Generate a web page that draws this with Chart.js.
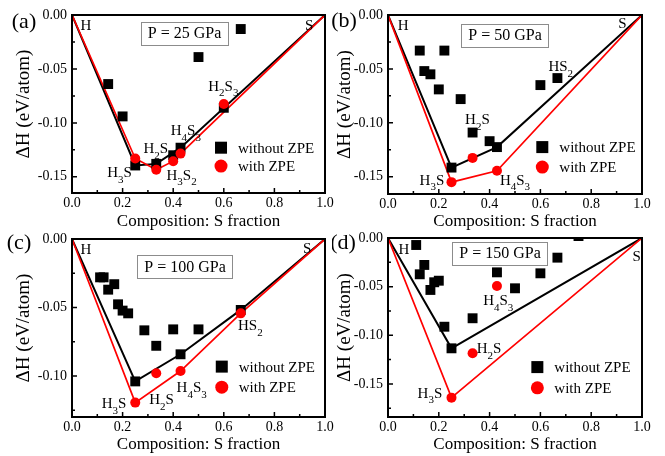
<!DOCTYPE html>
<html>
<head>
<meta charset="utf-8">
<script src="https://cdn.jsdelivr.net/npm/chart.js@4"></script>
<style>
  body { margin: 0; background: #fff; width: 665px; height: 456px; position: relative; overflow: hidden; }
  canvas { position: absolute; }
</style>
</head>
<body>
<canvas id="pa" width="340" height="232" style="left:0;top:0"></canvas>
<canvas id="pb" width="333" height="232" style="left:332px;top:0"></canvas>
<canvas id="pc" width="340" height="228" style="left:0;top:228px"></canvas>
<canvas id="pd" width="333" height="228" style="left:332px;top:228px"></canvas>
<script>
// composition axis ticks (shared)
const xTicks = [0, 0.2, 0.4, 0.6, 0.8, 1.0];

// (a) P = 25 GPa
const aTicksY = [0, -0.05, -0.10, -0.15];
const aBareX = [0.143, 0.2, 0.25, 0.333, 0.4, 0.429, 0.5, 0.6, 0.667];
const aBareY = [-0.064, -0.094, -0.1395, -0.138, -0.130, -0.123, -0.039, -0.086, -0.013];
const aZpeX = [0.25, 0.333, 0.4, 0.429, 0.6];
const aZpeY = [-0.133, -0.1435, -0.1355, -0.1285, -0.0825];
const aHullX = [0, 0.25, 0.333, 0.429, 1];
const aHullY = [0, -0.1395, -0.138, -0.123, 0];
const aHullZpeX = [0, 0.25, 0.333, 0.4, 0.429, 1];
const aHullZpeY = [0, -0.133, -0.1435, -0.1355, -0.1285, 0];

// (b) P = 50 GPa
const bTicksY = [0, -0.05, -0.10, -0.15];
const bBareX = [0.125, 0.143, 0.167, 0.2, 0.222, 0.25, 0.286, 0.333, 0.4, 0.429, 0.6, 0.667];
const bBareY = [-0.033, -0.052, -0.055, -0.069, -0.033, -0.1415, -0.078, -0.109, -0.117, -0.1225, -0.065, -0.0585];
const bZpeX = [0.25, 0.333, 0.429];
const bZpeY = [-0.155, -0.1325, -0.1445];
const bHullX = [0, 0.25, 0.429, 1];
const bHullY = [0, -0.1415, -0.1225, 0];
const bHullZpeX = [0, 0.25, 0.429, 1];
const bHullZpeY = [0, -0.155, -0.1445, 0];

// (c) P = 100 GPa
const cTicksY = [0, -0.05, -0.10];
const cBareX = [0.111, 0.125, 0.143, 0.167, 0.182, 0.2, 0.222, 0.25, 0.286, 0.333, 0.4, 0.429, 0.5, 0.667];
const cBareY = [-0.028, -0.028, -0.037, -0.033, -0.0477, -0.0523, -0.0543, -0.104, -0.0667, -0.078, -0.066, -0.0842, -0.066, -0.0518];
const cZpeX = [0.25, 0.333, 0.429, 0.667];
const cZpeY = [-0.1195, -0.098, -0.0964, -0.0543];
const cHullX = [0, 0.25, 0.429, 0.667, 1];
const cHullY = [0, -0.104, -0.0842, -0.0518, 0];
const cHullZpeX = [0, 0.25, 0.429, 0.667, 1];
const cHullZpeY = [0, -0.1195, -0.0964, -0.0543, 0];

// (d) P = 150 GPa
const dTicksY = [0, -0.05, -0.10, -0.15];
const dBareX = [0.111, 0.125, 0.143, 0.167, 0.182, 0.2, 0.222, 0.25, 0.333, 0.429, 0.5, 0.6, 0.667, 0.75];
const dBareY = [-0.0072, -0.0373, -0.0277, -0.0534, -0.0455, -0.0439, -0.0912, -0.1134, -0.0825, -0.0353, -0.0517, -0.0363, -0.0202, 0.002];
const dZpeX = [0.25, 0.333, 0.429];
const dZpeY = [-0.1641, -0.1185, -0.0493];
const dHullX = [0, 0.25, 1];
const dHullY = [0, -0.1134, 0];
const dHullZpeX = [0, 0.25, 1];
const dHullZpeY = [0, -0.1641, 0];

const serif = '"Liberation Serif", "DejaVu Serif", serif';

function pts(xs, ys) {
  return xs.map((x, i) => ({ x: x, y: ys[i] }));
}

// draws formulas like H3S2 with digits as subscripts, centred on (x, y)
function formula(ctx, str, x, y, size) {
  const parts = [...str].map(ch => ({ ch: ch, sub: /[0-9]/.test(ch) }));
  const fMain = size + 'px ' + serif;
  const fSub = Math.round(size * 0.75) + 'px ' + serif;
  let w = 0;
  parts.forEach(p => {
    ctx.font = p.sub ? fSub : fMain;
    p.w = ctx.measureText(p.ch).width;
    w += p.w;
  });
  let cx = x - w / 2;
  const base = y + size * 0.33;
  ctx.textAlign = 'left';
  ctx.textBaseline = 'alphabetic';
  parts.forEach(p => {
    ctx.font = p.sub ? fSub : fMain;
    ctx.fillText(p.ch, cx, p.sub ? base + size * 0.38 : base);
    cx += p.w;
  });
}

const decor = {
  id: 'decor',
  afterDatasetsDraw(chart, args, o) {
    const { ctx, chartArea: a, scales: { x, y } } = chart;
    ctx.save();
    ctx.strokeStyle = '#000';
    ctx.fillStyle = '#000';

    // inward ticks on bottom and left
    ctx.lineWidth = 1.5;
    ctx.beginPath();
    for (let i = 0; i <= 10; i++) {
      const px = x.getPixelForValue(i / 10);
      ctx.moveTo(px, a.bottom);
      ctx.lineTo(px, a.bottom - (i % 2 ? 3 : 5));
    }
    for (let i = 0; -i * 0.025 >= y.min - 1e-9; i++) {
      const py = y.getPixelForValue(-i * 0.025);
      ctx.moveTo(a.left, py);
      ctx.lineTo(a.left + (i % 2 ? 3 : 5), py);
    }
    ctx.stroke();

    // frame
    ctx.lineWidth = 2;
    ctx.strokeRect(a.left, a.top, a.right - a.left, a.bottom - a.top);

    // formula labels
    o.labels.forEach(l => formula(ctx, l.t, x.getPixelForValue(l.x), y.getPixelForValue(l.y), 15));

    // pressure box
    const bx = x.getPixelForValue(o.box.x), by = y.getPixelForValue(o.box.y);
    ctx.font = '16px ' + serif;
    const tw = ctx.measureText(o.box.t).width;
    ctx.strokeStyle = '#8c8c8c';
    ctx.lineWidth = 1;
    ctx.fillStyle = '#fff';
    ctx.fillRect(bx - tw / 2 - 7, by - 11.5, tw + 14, 23);
    ctx.strokeRect(Math.round(bx - tw / 2 - 7) + 0.5, Math.round(by - 11.5) + 0.5, Math.round(tw + 14), 23);
    ctx.fillStyle = '#000';
    ctx.textAlign = 'center';
    ctx.textBaseline = 'middle';
    ctx.fillText(o.box.t, bx, by + 1);

    // legend
    const lx = x.getPixelForValue(o.legend.x);
    const ly1 = y.getPixelForValue(o.legend.y1), ly2 = y.getPixelForValue(o.legend.y2);
    ctx.fillRect(lx - 6, ly1 - 6, 12, 12);
    ctx.fillStyle = '#ff0000';
    ctx.beginPath();
    ctx.arc(lx, ly2, 6.5, 0, Math.PI * 2);
    ctx.fill();
    ctx.fillStyle = '#000';
    ctx.font = '15px ' + serif;
    ctx.textAlign = 'left';
    ctx.fillText('without ZPE', lx + 17, ly1 + 1);
    ctx.fillText('with ZPE', lx + 17, ly2 + 1);

    // panel letter
    ctx.font = '22px ' + serif;
    ctx.textAlign = 'center';
    ctx.fillText(o.letter.t, o.letter.x, o.letter.y);
    ctx.restore();
  }
};

function panel(id, d) {
  return new Chart(document.getElementById(id), {
    type: 'scatter',
    data: {
      datasets: [
        { label: 'with ZPE', data: pts(d.zx, d.zy), pointStyle: 'circle', pointRadius: 5, backgroundColor: '#ff0000', borderWidth: 0, order: 0, clip: 0 },
        { label: 'without ZPE', data: pts(d.bx, d.by), pointStyle: 'rect', pointRadius: 7, backgroundColor: '#000', borderWidth: 0, order: 1, clip: 0 },
        { data: pts(d.hzx, d.hzy), showLine: true, borderColor: '#ff0000', borderWidth: 1.7, pointRadius: 0, order: 2 },
        { data: pts(d.hx, d.hy), showLine: true, borderColor: '#000', borderWidth: 2, pointRadius: 0, order: 3 }
      ]
    },
    options: {
      responsive: false,
      animation: false,
      events: [],
      layout: { autoPadding: false, padding: { left: 0, bottom: 0, top: d.top, right: d.right } },
      plugins: {
        legend: { display: false },
        tooltip: { enabled: false },
        decor: d.decor
      },
      scales: {
        x: {
          type: 'linear', min: 0, max: 1,
          afterBuildTicks: s => { s.ticks = xTicks.map(v => ({ value: v })); },
          afterFit: s => { s.height = d.xh; s.paddingLeft = 0; s.paddingRight = 0; },
          grid: { display: false, drawTicks: false },
          border: { display: false },
          ticks: { padding: 2, color: '#000', autoSkip: false, maxRotation: 0, font: { family: serif, size: 14 }, callback: v => v.toFixed(1) },
          title: { display: true, text: 'Composition: S fraction', color: '#000', font: { family: serif, size: 17 }, padding: { top: 0, bottom: d.xtp } }
        },
        y: {
          type: 'linear', min: d.ymin, max: 0,
          afterBuildTicks: s => { s.ticks = d.yticks.map(v => ({ value: v })); },
          afterFit: s => { s.width = d.yw; s.paddingTop = 0; s.paddingBottom = 0; },
          grid: { display: false, drawTicks: false },
          border: { display: false },
          ticks: { padding: 5, color: '#000', autoSkip: false, font: { family: serif, size: 14 }, callback: v => v.toFixed(2) },
          title: { display: true, text: 'ΔH (eV/atom)', color: '#000', font: { family: serif, size: 19 }, padding: { top: d.ytp, bottom: 0 } }
        }
      }
    },
    plugins: [decor]
  });
}

panel('pa', {
  bx: aBareX, by: aBareY, zx: aZpeX, zy: aZpeY, hx: aHullX, hy: aHullY, hzx: aHullZpeX, hzy: aHullZpeY,
  ymin: -0.165, yticks: aTicksY, top: 15, right: 15, yw: 72, xh: 39, xtp: 0.5, ytp: 13,
  decor: {
    labels: [
      { t: 'H', x: 0.055, y: -0.0093 }, { t: 'S', x: 0.937, y: -0.0093 },
      { t: 'H3S', x: 0.188, y: -0.146 }, { t: 'H2S', x: 0.331, y: -0.1235 },
      { t: 'H3S2', x: 0.433, y: -0.148 }, { t: 'H4S3', x: 0.45, y: -0.107 },
      { t: 'H2S3', x: 0.598, y: -0.0656 }
    ],
    box: { t: 'P = 25 GPa', x: 0.445, y: -0.0167 },
    legend: { x: 0.589, y1: -0.123, y2: -0.14 },
    letter: { t: '(a)', x: 24, y: 22 }
  }
});

panel('pb', {
  bx: bBareX, by: bBareY, zx: bZpeX, zy: bZpeY, hx: bHullX, hy: bHullY, hzx: bHullZpeX, hzy: bHullZpeY,
  ymin: -0.166, yticks: bTicksY, top: 15, right: 23, yw: 56, xh: 38, xtp: 0.5, ytp: 2,
  decor: {
    labels: [
      { t: 'H', x: 0.06, y: -0.0093 }, { t: 'S', x: 0.923, y: -0.0078 },
      { t: 'HS2', x: 0.68, y: -0.0473 }, { t: 'H2S', x: 0.352, y: -0.0967 },
      { t: 'H3S', x: 0.173, y: -0.1526 }, { t: 'H4S3', x: 0.5, y: -0.1526 }
    ],
    box: { t: 'P = 50 GPa', x: 0.461, y: -0.0186 },
    legend: { x: 0.6075, y1: -0.1225, y2: -0.141 },
    letter: { t: '(b)', x: 12, y: 21 }
  }
});

panel('pc', {
  bx: cBareX, by: cBareY, zx: cZpeX, zy: cZpeY, hx: cHullX, hy: cHullY, hzx: cHullZpeX, hzy: cHullZpeY,
  ymin: -0.13, yticks: cTicksY, top: 11, right: 15, yw: 72, xh: 39, xtp: 1.5, ytp: 13,
  decor: {
    labels: [
      { t: 'H', x: 0.055, y: -0.0077 }, { t: 'S', x: 0.93, y: -0.0068 },
      { t: 'HS2', x: 0.705, y: -0.0628 }, { t: 'H3S', x: 0.166, y: -0.1197 },
      { t: 'H2S', x: 0.354, y: -0.1168 }, { t: 'H4S3', x: 0.473, y: -0.1082 }
    ],
    box: { t: 'P = 100 GPa', x: 0.447, y: -0.0204 },
    legend: { x: 0.592, y1: -0.0932, y2: -0.1082 },
    letter: { t: '(c)', x: 19, y: 15 }
  }
});

panel('pd', {
  bx: dBareX, by: dBareY, zx: dZpeX, zy: dZpeY, hx: dHullX, hy: dHullY, hzx: dHullZpeX, hzy: dHullZpeY,
  ymin: -0.184, yticks: dTicksY, top: 10, right: 23, yw: 56, xh: 39, xtp: 1.5, ytp: 2,
  decor: {
    labels: [
      { t: 'H', x: 0.063, y: -0.0113 }, { t: 'S', x: 0.979, y: -0.0186 },
      { t: 'H4S3', x: 0.434, y: -0.064 }, { t: 'H2S', x: 0.398, y: -0.113 },
      { t: 'H3S', x: 0.165, y: -0.159 }
    ],
    box: { t: 'P = 150 GPa', x: 0.441, y: -0.0155 },
    legend: { x: 0.588, y1: -0.1327, y2: -0.154 },
    letter: { t: '(d)', x: 11, y: 15 }
  }
});
</script>
</body>
</html>
